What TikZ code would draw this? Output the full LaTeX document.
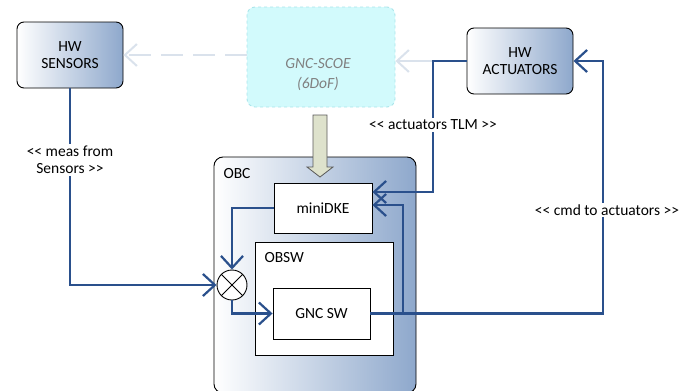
\documentclass[tikz,border=0pt]{standalone}
\usepackage{fontspec}
\setmainfont{Carlito}
\usetikzlibrary{arrows.meta,calc}

\definecolor{sigblue}{RGB}{42,80,140}
\definecolor{hwblue}{RGB}{142,168,204}
\definecolor{scoefill}{RGB}{210,250,252}
\definecolor{scoeline}{RGB}{170,228,234}
\definecolor{ghostline}{RGB}{218,226,236}
\definecolor{feedfill}{RGB}{222,226,204}

\newcommand\dlt{<\kern0pt<}
\newcommand\dgt{>\kern0pt>}

\tikzset{
  hwbox/.style={draw, rounded corners=7pt, line width=0.9pt, left color=white,
    right color=hwblue, minimum width=106, minimum height=66, align=center},
  swbox/.style={draw, line width=0.9pt, fill=white},
  sig/.style={sigblue, line width=2.2pt,
    -{Straight Barb[length=12pt,width=22pt,line width=2.2pt]}},
  ghost/.style={ghostline, line width=2pt,
    -{Straight Barb[length=12pt,width=22pt,line width=2pt]}},
  tag/.style={fill=white, align=center, inner sep=2pt}
}

\begin{document}
\begin{tikzpicture}[x=1pt,y=-1pt,font=\fontsize{15.5}{17}\selectfont]

  \useasboundingbox (0,0) rectangle (689,391);

  % hardware and test equipment
  \node[hwbox] (sensors) at (70,55) {HW\\SENSORS};
  \node[hwbox] (actuators) at (520,61) {HW\\ACTUATORS};
  \node[draw=scoeline, dashed, fill=scoefill, rounded corners=8pt, line width=0.9pt,
    minimum width=148, minimum height=100] (scoe) at (321,57) {};
  \node[gray, align=center, font=\fontsize{15.5}{20}\selectfont\itshape] (scoetxt) at (318,75) {GNC-SCOE\\(6DoF)};

  % on-board computer
  \node[draw, rounded corners=9pt, line width=0.9pt, left color=white, right color=hwblue,
    minimum width=202, minimum height=236] (obc) at (315,275) {};
  \node[anchor=west] (obctxt) at (220,174) {OBC};
  \node[swbox, minimum width=98, minimum height=50] (minidke) at (323,208) {miniDKE};
  \node[swbox, minimum width=138, minimum height=113] (obsw) at (324,298.5) {};
  \node[anchor=west] (obswtxt) at (261,258) {OBSW};
  \node[swbox, minimum width=97, minimum height=51] (gncsw) at (321.5,313.5) {GNC SW};

  % summing point
  \node[draw, circle, fill=white, line width=0.9pt, minimum size=30, inner sep=0pt] (mix) at (232,285) {};
  \draw[line width=0.8pt] (mix.north west) -- (mix.south east);
  \draw[line width=0.8pt] (mix.north east) -- (mix.south west);

  % stimulation from the SCOE (block arrow)
  \coordinate (feed) at (320,115);
  \draw[black!65, fill=feedfill, line width=0.8pt]
    ($(feed)+(-7,0)$) -- ($(feed)+(7,0)$) -- ($(feed)+(7,52)$) -- ($(feed)+(13,52)$)
    -- ($(feed)+(0,62)$) -- ($(feed)+(-13,52)$) -- ($(feed)+(-7,52)$) -- cycle;

  % corner points
  \coordinate (tlm) at (433,61);
  \coordinate (cmd) at (603,61);
  \coordinate (br) at (403,313.5);

  % signals
  \draw[ghost, dashed, dash pattern=on 22pt off 10pt] (scoe.west |- sensors.east) -- (sensors.east);
  \draw[ghost] (tlm) -- (scoe.east |- tlm);
  \draw[sig] (sensors.south) |- (mix.west);
  \draw[sig] (minidke.west) -| (mix.north);
  \draw[sig] (mix.south) |- (gncsw.west);
  \draw[sig] (actuators.west) -- (tlm) |- ([yshift=16pt]minidke.east);
  \draw[sig] (gncsw.east) -| (cmd) -- (actuators.east);
  \draw[sig] (br) |- ([yshift=3pt]minidke.east);

  % labels
  \node[tag] (meas) at (70,160) {\dlt{} meas from\\Sensors \dgt};
  \node[tag] (tlmtxt) at (433,125) {\dlt{} actuators TLM \dgt};
  \node[tag] (cmdtxt) at (607,210) {\dlt{} cmd to actuators \dgt};

\end{tikzpicture}
\end{document}
